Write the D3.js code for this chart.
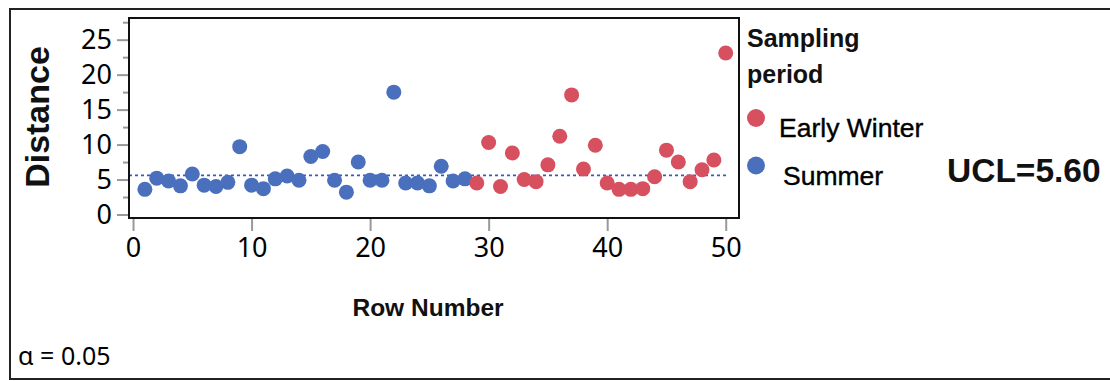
<!DOCTYPE html>
<html>
<head>
<meta charset="utf-8">
<script src="https://cdn.jsdelivr.net/npm/d3@7"></script>
<style>
    body { margin: 0; background: #fff; }
    svg { display: block; }
</style>
</head>
<body>
<div id="chart"></div>
<script>

// row numbers and distances
var rows = [1, 2, 3, 4, 5, 6, 7, 8, 9, 10, 11, 12, 13, 14, 15, 16, 17, 18, 19, 20,
            21, 22, 23, 24, 25, 26, 27, 28, 29, 30, 31, 32, 33, 34, 35, 36, 37, 38, 39, 40,
            41, 42, 43, 44, 45, 46, 47, 48, 49, 50];
var distance = [3.6, 5.2, 4.8, 4.1, 5.8, 4.2, 4.0, 4.6, 9.7, 4.2,
                3.7, 5.1, 5.5, 4.9, 8.3, 9.0, 4.9, 3.2, 7.5, 4.9,
                4.9, 17.5, 4.5, 4.5, 4.1, 6.9, 4.8, 5.1, 4.5, 10.3,
                4.0, 8.8, 5.0, 4.7, 7.1, 11.2, 17.1, 6.5, 9.9, 4.5,
                3.6, 3.6, 3.7, 5.4, 9.2, 7.5, 4.7, 6.4, 7.8, 23.1];
var period = ["Summer", "Summer", "Summer", "Summer", "Summer", "Summer", "Summer", "Summer", "Summer", "Summer",
              "Summer", "Summer", "Summer", "Summer", "Summer", "Summer", "Summer", "Summer", "Summer", "Summer",
              "Summer", "Summer", "Summer", "Summer", "Summer", "Summer", "Summer", "Summer", "Early Winter", "Early Winter",
              "Early Winter", "Early Winter", "Early Winter", "Early Winter", "Early Winter", "Early Winter", "Early Winter", "Early Winter", "Early Winter", "Early Winter",
              "Early Winter", "Early Winter", "Early Winter", "Early Winter", "Early Winter", "Early Winter", "Early Winter", "Early Winter", "Early Winter", "Early Winter"];

var periods = ["Early Winter", "Summer"];
var xTicks = [0, 10, 20, 30, 40, 50];
var yTicks = [0, 5, 10, 15, 20, 25];
var yMinorTicks = [2.5, 7.5, 12.5, 17.5, 22.5, 27.5];
var ucl = 5.60;

var data = rows.map(function (r, i) {
    return { row: r, distance: distance[i], period: period[i] };
});

var svg = d3.select("#chart")
    .append("svg")
    .attr("width", 1110)
    .attr("height", 381);

var frame = { left: 129, top: 18, right: 739, bottom: 218 };

var x = d3.scaleLinear()
    .domain([-0.34, 51.12])
    .range([frame.left, frame.right]);

var y = d3.scaleLinear()
    .domain([-0.5, 28.1])
    .range([frame.bottom, frame.top]);

var color = d3.scaleOrdinal()
    .domain(periods)
    .range(["#d6505f", "#4a70bd"]);

var tickFont = "'Noto Sans', 'Open Sans', sans-serif";
var boldFont = "'Liberation Sans', Arial, sans-serif";

// outer border
svg.append("path")
    .attr("d", "M1112,9 H10 V379 H1112")
    .style("fill", "none")
    .style("stroke", "#222")
    .style("stroke-width", 2);

// x axis
var xAxis = d3.axisBottom(x)
    .tickValues(xTicks)
    .tickSize(13)
    .tickPadding(7);

var gx = svg.append("g")
    .attr("transform", "translate(0," + frame.bottom + ")")
    .call(xAxis);
gx.select(".domain").remove();
gx.selectAll(".tick line").style("stroke", "#999").style("stroke-width", 2);
gx.selectAll(".tick text")
    .style("font-family", tickFont)
    .style("font-size", "27px")
    .style("fill", "#000");

// y axis, major and minor ticks
var yAxis = d3.axisLeft(y)
    .tickValues(yTicks)
    .tickSize(12)
    .tickPadding(5);

var gy = svg.append("g")
    .attr("transform", "translate(" + frame.left + ",0)")
    .call(yAxis);
gy.select(".domain").remove();
gy.selectAll(".tick line").style("stroke", "#999").style("stroke-width", 2);
gy.selectAll(".tick text")
    .style("font-family", tickFont)
    .style("font-size", "27px")
    .style("fill", "#000");

var gyMinor = svg.append("g")
    .attr("transform", "translate(" + frame.left + ",0)")
    .call(d3.axisLeft(y).tickValues(yMinorTicks).tickSize(6).tickFormat(""));
gyMinor.select(".domain").remove();
gyMinor.selectAll(".tick line").style("stroke", "#999").style("stroke-width", 2);

// UCL line
svg.append("line")
    .attr("x1", frame.left)
    .attr("x2", x(50.1))
    .attr("y1", y(ucl))
    .attr("y2", y(ucl))
    .style("stroke", "#3558c8")
    .style("stroke-width", 1.8)
    .style("stroke-dasharray", "3,3");

// points
svg.selectAll(".dot")
    .data(data)
    .enter().append("circle")
    .attr("class", "dot")
    .attr("cx", function (d) { return x(d.row); })
    .attr("cy", function (d) { return y(d.distance); })
    .attr("r", 7.5)
    .style("fill", function (d) { return color(d.period); });

// plot frame
svg.append("rect")
    .attr("x", frame.left)
    .attr("y", frame.top)
    .attr("width", frame.right - frame.left)
    .attr("height", frame.bottom - frame.top)
    .style("fill", "none")
    .style("stroke", "#111")
    .style("stroke-width", 2);

// axis titles
svg.append("text")
    .attr("transform", "translate(37,117) rotate(-90)")
    .attr("dy", "0.35em")
    .attr("text-anchor", "middle")
    .style("font-family", boldFont)
    .style("font-weight", "bold")
    .style("font-size", "34px")
    .style("fill", "#111")
    .text("Distance");

svg.append("text")
    .attr("x", 428)
    .attr("y", 316)
    .attr("text-anchor", "middle")
    .style("font-family", boldFont)
    .style("font-weight", "bold")
    .style("font-size", "24.5px")
    .style("fill", "#111")
    .text("Row Number");

// legend
var legend = svg.append("g");
legend.append("text")
    .attr("x", 747)
    .attr("y", 47)
    .style("font-family", boldFont)
    .style("font-weight", "bold")
    .style("font-size", "25px")
    .style("fill", "#111")
    .text("Sampling");
legend.append("text")
    .attr("x", 747)
    .attr("y", 83)
    .style("font-family", boldFont)
    .style("font-weight", "bold")
    .style("font-size", "25px")
    .style("fill", "#111")
    .text("period");

var item = legend.selectAll(".item")
    .data(periods)
    .enter().append("g")
    .attr("class", "item")
    .attr("transform", function (d, i) { return "translate(756," + (118 + i * 47.5) + ")"; });

item.append("circle")
    .attr("r", 9)
    .style("fill", function (d) { return color(d); });

item.append("text")
    .attr("x", function (d, i) { return i === 0 ? 23 : 27; })
    .attr("y", 19)
    .style("font-family", boldFont)
    .style("font-size", "26.5px")
    .style("fill", "#000")
    .style("stroke", "#000")
    .style("stroke-width", 0.4)
    .text(function (d) { return d; });

svg.append("text")
    .attr("x", 947)
    .attr("y", 181.5)
    .style("font-family", boldFont)
    .style("font-weight", "bold")
    .style("font-size", "33.5px")
    .style("fill", "#111")
    .text("UCL=" + ucl.toFixed(2));

svg.append("text")
    .attr("x", 18)
    .attr("y", 365)
    .style("font-family", tickFont)
    .style("font-size", "25px")
    .style("fill", "#000")
    .text("α = 0.05");

</script>
</body>
</html>
